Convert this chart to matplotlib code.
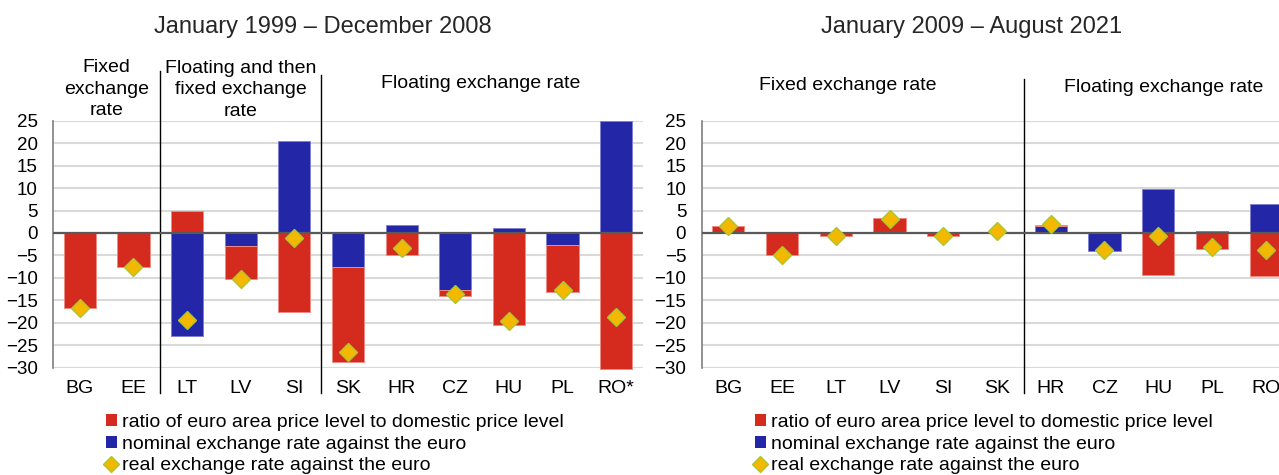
import matplotlib
matplotlib.use('Agg')
import matplotlib.pyplot as plt
from matplotlib.patches import Patch
from matplotlib.lines import Line2D

plt.rcParams['font.family'] = ['Liberation Sans', 'DejaVu Sans']

# left panel: Jan 1999 - Dec 2008
left_countries = ['BG', 'EE', 'LT', 'LV', 'SI', 'SK', 'HR', 'CZ', 'HU', 'PL', 'RO*']
left_price = [-16.7, -7.6, 4.8, -7.4, -17.5, -21.1, -5.0, -1.4, -20.6, -10.4, -30.2]
left_nominal = [0.0, 0.0, -22.9, -2.8, 20.4, -7.6, 1.7, -12.6, 1.1, -2.7, 25.0]
left_real = [-16.7, -7.6, -19.3, -10.3, -1.1, -26.5, -3.3, -13.7, -19.7, -12.8, -18.8]

# right panel: Jan 2009 - Aug 2021
right_countries = ['BG', 'EE', 'LT', 'LV', 'SI', 'SK', 'HR', 'CZ', 'HU', 'PL', 'RO']
right_price = [1.5, -4.8, -0.6, 3.2, -0.6, 0.3, 0.35, 0.0, -9.4, -3.6, -9.5]
right_nominal = [0.0, 0.0, 0.0, 0.1, 0.0, 0.0, 1.5, -4.0, 9.9, 0.4, 6.5]
right_real = [1.5, -4.8, -0.6, 3.1, -0.6, 0.4, 2.0, -3.9, -0.7, -3.2, -3.9]

legend_labels = ['ratio of euro area price level to domestic price level',
                 'nominal exchange rate against the euro',
                 'real exchange rate against the euro']

RED = '#d52b1e'
BLUE = '#2326a6'
GOLD = '#f5b800'

W, H = 1279, 475


def fy(px):
    # pixel from top -> figure fraction
    return 1 - px / H


def draw_panel(ax, countries, price, nominal, real):
    x = list(range(len(countries)))
    pos = [0.0] * len(x)
    neg = [0.0] * len(x)
    # blue stacked first, then red
    for vals, col, edge in [(nominal, BLUE, '#7f82d4'), (price, RED, '#ee8c84')]:
        bottoms = []
        for i, v in enumerate(vals):
            if v >= 0:
                bottoms.append(pos[i])
                pos[i] += v
            else:
                bottoms.append(neg[i])
                neg[i] += v
        ax.bar(x, vals, bottom=bottoms, width=0.6, color=col, edgecolor=edge,
               linewidth=0.7, zorder=2, clip_on=False)
    ax.axhline(0, color='#595959', lw=1.6, zorder=3)
    ax.plot(x, real, ls='none', marker='D', markersize=9.5, color=GOLD,
            markeredgecolor='#a8c832', markeredgewidth=1, zorder=4)

    ax.set_xlim(-0.5, len(x) - 0.5)
    ax.set_ylim(-30, 25)
    ax.set_yticks(range(-30, 26, 5))
    ax.set_xticks(x)
    ax.set_xticklabels(countries)
    ax.tick_params(axis='y', length=0, pad=11, labelsize=13.5)
    ax.tick_params(axis='x', length=0, pad=9, labelsize=14)
    ax.grid(axis='y', color='#d9d9d9', lw=1.5, zorder=0)
    ax.set_axisbelow(True)
    for s in ['top', 'right', 'bottom']:
        ax.spines[s].set_visible(False)
    ax.spines['left'].set_color('#7f7f7f')
    ax.spines['left'].set_linewidth(1.2)


fig = plt.figure(figsize=(W / 100, H / 100), dpi=100)
ax1 = fig.add_axes([53 / W, fy(367.7), 590 / W, 247 / H])
ax2 = fig.add_axes([701.5 / W, fy(367.7), 591 / W, 247 / H])

draw_panel(ax1, left_countries, left_price, left_nominal, left_real)
draw_panel(ax2, right_countries, right_price, right_nominal, right_real)

fig.text(323 / W, fy(27), 'January 1999 \u2013 December 2008', ha='center', va='center',
         fontsize=17, color='#262626')
fig.text(972 / W, fy(27), 'January 2009 \u2013 August 2021', ha='center', va='center',
         fontsize=17, color='#262626')

# regime labels
groups = [(ax1, 0.5, 89, 'Fixed\nexchange\nrate'),
          (ax1, 3.0, 90, 'Floating and then\nfixed exchange\nrate'),
          (ax1, 7.47, 84, 'Floating exchange rate'),
          (ax2, 2.23, 85, 'Fixed exchange rate'),
          (ax2, 8.11, 87, 'Floating exchange rate')]
for ax, gx, gy, txt in groups:
    ax.annotate(txt, xy=(gx, fy(gy)), xycoords=('data', 'figure fraction'),
                ha='center', va='center', fontsize=14, linespacing=1.38)

# regime separators
for ax, sx, top in [(ax1, 1.5, 71), (ax1, 4.5, 75), (ax2, 5.5, 79)]:
    ax.axvline(sx, ymin=(367.7 - 393) / 247, ymax=(367.7 - top) / 247,
               color='black', lw=1, clip_on=False)

handles = [Patch(facecolor=RED, edgecolor='none'),
           Patch(facecolor=BLUE, edgecolor='none'),
           Line2D([], [], ls='none', marker='D', markersize=8, color=GOLD,
                  markeredgecolor='#a8c832')]
for lx in [106, 755]:
    fig.legend(handles, legend_labels, loc='upper left',
               bbox_to_anchor=(lx / W, fy(414)), frameon=False, fontsize=14,
               handlelength=0.55, handleheight=0.55, handletextpad=0.25,
               labelspacing=0.24, borderpad=0, borderaxespad=0)

fig.savefig('out.png', dpi=100)
